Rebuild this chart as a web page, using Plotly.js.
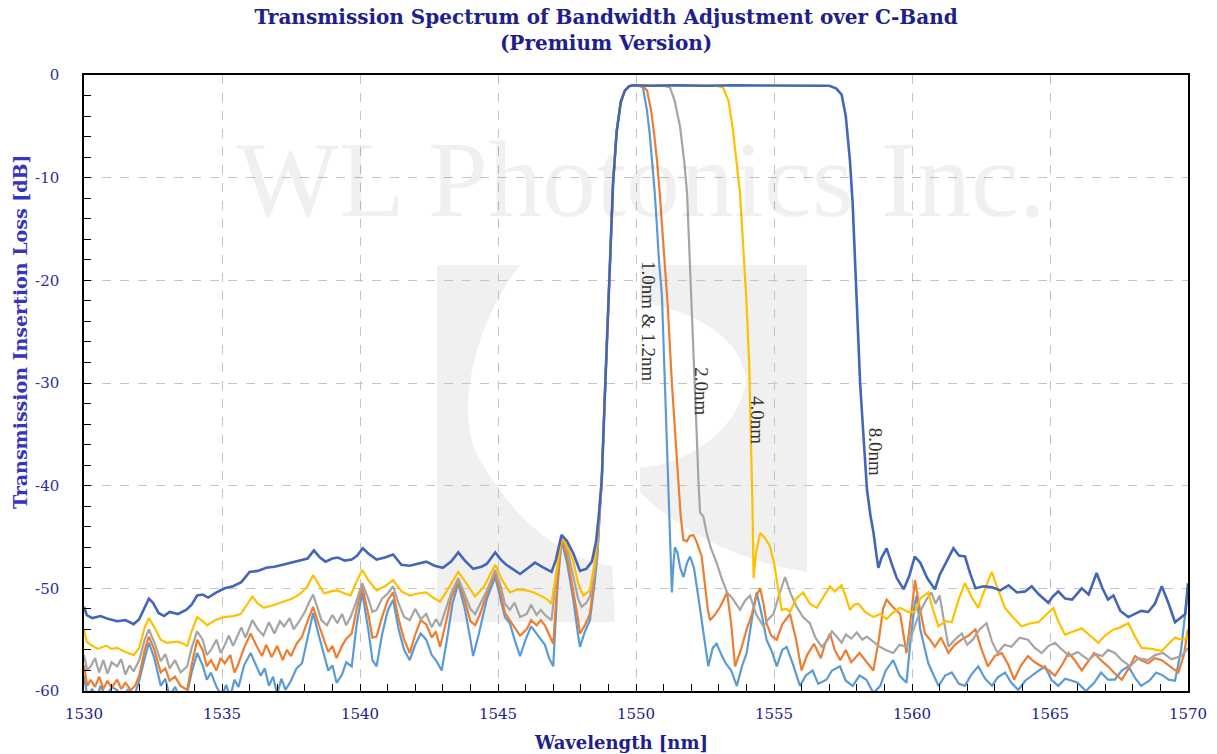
<!DOCTYPE html>
<html>
<head>
<meta charset="utf-8">
<script src="https://cdn.plot.ly/plotly-3.0.1.min.js"></script>
<style>html,body{margin:0;padding:0;background:#fff;}#chart{width:1217px;height:754px;}</style>
</head>
<body>
<div id="chart"></div>
<script>
// ---- 1.0nm (light blue) ----
const x10 = [1530.0,1530.12,1530.3,1530.45,1530.6,1530.8,1531.0,1531.2,1531.4,1531.6,1531.8,1532.0,1532.2,1532.35,1532.55,1532.78,1532.95,1533.1,1533.3,1533.5,1533.74,1533.9,1534.1,1534.3,1534.45,1534.6,1534.8,1535.0,1535.15,1535.3,1535.45,1535.6,1535.8,1536.04,1536.25,1536.4,1536.55,1536.7,1536.85,1537.0,1537.15,1537.3,1537.5,1537.7,1537.9,1538.1,1538.3,1538.5,1538.7,1538.85,1539.0,1539.15,1539.35,1539.5,1539.7,1539.88,1540.08,1540.3,1540.45,1540.6,1540.8,1541.0,1541.2,1541.4,1541.6,1541.8,1542.0,1542.2,1542.4,1542.6,1542.75,1542.96,1543.15,1543.35,1543.56,1543.8,1544.0,1544.1,1544.3,1544.6,1544.9,1545.1,1545.25,1545.43,1545.6,1545.8,1546.0,1546.2,1546.4,1546.55,1546.7,1546.85,1547.0,1547.15,1547.3,1547.5,1547.73,1547.9,1547.97,1548.15,1548.33,1548.5,1548.6,1548.68,1548.76,1548.86,1548.96,1549.06,1549.17,1549.3,1549.45,1549.6,1549.75,1549.9,1550.05,1550.25,1550.4,1550.5,1550.58,1550.68,1550.76,1550.83,1550.94,1551.05,1551.1,1551.17,1551.24,1551.3,1551.36,1551.41,1551.5,1551.6,1551.72,1551.85,1551.96,1552.1,1552.25,1552.45,1552.62,1552.78,1552.92,1553.1,1553.25,1553.45,1553.65,1553.85,1554.01,1554.2,1554.37,1554.55,1554.73,1554.9,1555.1,1555.3,1555.46,1555.7,1555.94,1556.15,1556.4,1556.6,1556.9,1557.1,1557.39,1557.6,1557.85,1558.1,1558.35,1558.6,1558.85,1559.05,1559.32,1559.55,1559.8,1559.95,1560.1,1560.17,1560.3,1560.59,1560.8,1560.96,1561.2,1561.44,1561.7,1561.92,1562.15,1562.4,1562.65,1562.9,1563.1,1563.37,1563.6,1563.85,1564.1,1564.34,1564.6,1564.82,1565.05,1565.3,1565.55,1565.8,1566.0,1566.3,1566.6,1566.85,1567.1,1567.35,1567.6,1567.84,1568.1,1568.3,1568.6,1568.85,1569.1,1569.3,1569.53,1569.75,1569.9,1570.0];
const y10 = [-58.5,-60.5,-59.8,-60.8,-59.5,-60.6,-59.6,-59.9,-60.8,-59.8,-60.7,-59.0,-56.8,-55.3,-56.8,-59.5,-58.8,-60.5,-59.6,-60.8,-60.2,-58.2,-56.3,-57.5,-58.9,-58.2,-59.6,-60.5,-59.4,-60.6,-58.9,-59.6,-57.5,-56.3,-57.6,-58.5,-57.8,-59.5,-58.6,-60.3,-58.8,-59.9,-59.0,-57.8,-57.3,-55.0,-52.4,-54.5,-56.6,-58.0,-57.5,-59.2,-58.4,-57.2,-57.6,-53.5,-50.4,-54.0,-57.0,-57.6,-54.5,-52.2,-51.1,-54.0,-56.0,-57.0,-55.5,-54.4,-55.0,-56.5,-57.0,-58.0,-55.0,-51.5,-49.5,-52.0,-55.0,-56.6,-54.5,-51.0,-48.9,-51.0,-52.8,-53.4,-55.0,-56.6,-55.0,-53.7,-54.4,-55.0,-55.5,-56.8,-57.6,-50.0,-45.3,-47.5,-51.1,-54.5,-55.7,-54.2,-53.1,-49.5,-46.9,-43.0,-39.4,-32.0,-25.0,-18.0,-10.5,-5.5,-2.6,-1.5,-1.1,-1.0,-1.0,-1.2,-3.5,-5.8,-8.3,-11.5,-14.8,-18.0,-21.5,-30.0,-35.0,-39.4,-45.0,-50.4,-47.5,-46.0,-46.5,-48.0,-48.9,-47.5,-46.9,-48.0,-50.7,-54.5,-57.6,-55.8,-55.4,-56.5,-57.3,-58.0,-59.5,-57.5,-56.3,-53.0,-50.4,-52.5,-55.0,-56.0,-57.6,-56.0,-55.7,-57.5,-59.5,-58.5,-58.0,-59.3,-58.9,-58.0,-57.6,-59.0,-59.5,-58.5,-58.9,-60.2,-59.5,-58.0,-57.0,-58.5,-59.2,-55.0,-51.5,-50.7,-54.0,-57.3,-58.5,-59.5,-58.5,-58.2,-59.3,-59.5,-58.4,-57.6,-58.8,-59.5,-58.7,-58.2,-59.2,-59.9,-59.0,-58.5,-58.0,-57.6,-58.9,-59.5,-58.8,-59.0,-59.2,-60.0,-59.2,-58.2,-58.9,-58.9,-58.0,-57.6,-58.8,-59.5,-59.0,-58.2,-58.5,-58.9,-59.0,-56.0,-52.5,-50.0];

// ---- 1.2nm (orange) ----
const x12 = [1530.0,1530.12,1530.24,1530.4,1530.55,1530.7,1530.85,1531.0,1531.2,1531.35,1531.5,1531.7,1531.85,1532.0,1532.2,1532.35,1532.55,1532.78,1532.95,1533.1,1533.3,1533.5,1533.74,1533.9,1534.1,1534.3,1534.45,1534.6,1534.8,1534.95,1535.1,1535.3,1535.45,1535.56,1535.8,1536.04,1536.25,1536.45,1536.6,1536.8,1537.0,1537.2,1537.35,1537.5,1537.7,1537.9,1538.1,1538.3,1538.5,1538.7,1538.85,1539.0,1539.15,1539.35,1539.5,1539.7,1539.88,1540.08,1540.3,1540.45,1540.6,1540.8,1541.0,1541.2,1541.4,1541.6,1541.8,1542.0,1542.2,1542.4,1542.6,1542.75,1542.9,1543.1,1543.3,1543.56,1543.8,1544.0,1544.17,1544.35,1544.6,1544.9,1545.1,1545.25,1545.43,1545.6,1545.8,1546.04,1546.2,1546.4,1546.55,1546.7,1546.85,1547.0,1547.15,1547.3,1547.5,1547.73,1547.9,1547.97,1548.15,1548.33,1548.5,1548.6,1548.68,1548.76,1548.86,1548.96,1549.06,1549.17,1549.3,1549.45,1549.6,1549.75,1549.9,1550.2,1550.4,1550.55,1550.66,1550.76,1550.86,1550.94,1551.05,1551.15,1551.3,1551.42,1551.53,1551.62,1551.72,1551.85,1551.95,1552.08,1552.2,1552.38,1552.5,1552.6,1552.68,1552.85,1553.05,1553.2,1553.3,1553.45,1553.59,1553.8,1554.01,1554.2,1554.35,1554.5,1554.62,1554.73,1554.9,1555.1,1555.3,1555.58,1555.8,1556.0,1556.2,1556.45,1556.7,1556.85,1557.03,1557.2,1557.4,1557.6,1557.8,1558.1,1558.3,1558.6,1558.8,1558.95,1559.08,1559.3,1559.57,1559.7,1559.8,1559.95,1560.11,1560.25,1560.47,1560.65,1560.83,1561.05,1561.32,1561.55,1561.8,1562.05,1562.3,1562.5,1562.75,1563.0,1563.25,1563.5,1563.7,1563.95,1564.2,1564.45,1564.7,1564.95,1565.18,1565.45,1565.67,1565.9,1566.15,1566.4,1566.6,1566.85,1567.1,1567.35,1567.6,1567.85,1568.08,1568.3,1568.56,1568.8,1569.05,1569.35,1569.65,1569.85,1570.0];
const y12 = [-57.5,-59.5,-58.9,-59.6,-58.6,-59.8,-59.0,-59.7,-58.9,-59.8,-59.2,-59.9,-59.5,-58.5,-56.0,-54.7,-56.0,-58.2,-57.8,-59.0,-58.6,-59.5,-59.9,-57.5,-55.0,-56.0,-57.6,-57.0,-58.0,-56.8,-57.3,-56.5,-58.2,-57.6,-55.8,-54.4,-55.6,-56.6,-55.5,-56.7,-55.6,-57.0,-56.0,-56.6,-55.4,-54.7,-53.2,-51.8,-53.5,-55.0,-56.2,-55.6,-56.8,-55.6,-54.9,-54.4,-52.0,-49.8,-52.5,-54.8,-54.7,-52.8,-51.2,-50.4,-53.0,-55.0,-56.3,-54.5,-53.1,-53.5,-54.8,-54.2,-55.7,-53.5,-51.0,-49.2,-51.2,-53.2,-53.6,-52.5,-50.5,-48.5,-50.5,-52.4,-53.1,-53.8,-54.6,-54.0,-53.1,-53.6,-53.1,-53.6,-54.5,-55.4,-49.5,-45.1,-46.8,-50.2,-53.0,-54.4,-53.6,-52.5,-49.0,-46.6,-42.8,-39.4,-32.0,-25.0,-18.0,-10.5,-5.5,-2.6,-1.5,-1.1,-1.0,-1.0,-1.5,-3.5,-5.8,-8.3,-11.5,-14.8,-18.5,-22.5,-30.0,-35.5,-39.4,-43.0,-45.3,-45.4,-44.9,-44.8,-45.5,-46.9,-49.5,-52.0,-53.1,-52.6,-51.8,-50.9,-50.4,-53.5,-57.6,-56.0,-54.0,-52.5,-50.8,-50.0,-51.5,-53.4,-54.6,-55.0,-53.5,-52.5,-55.0,-58.0,-56.5,-55.4,-56.8,-55.4,-54.4,-56.0,-57.0,-56.0,-57.2,-56.3,-57.0,-58.0,-55.0,-52.0,-51.1,-51.8,-52.5,-54.5,-56.3,-53.0,-49.2,-51.5,-54.4,-55.0,-55.7,-54.8,-56.3,-55.5,-55.0,-54.6,-54.0,-55.8,-57.6,-56.6,-56.3,-57.5,-58.9,-57.5,-56.6,-57.2,-57.6,-58.0,-58.5,-57.4,-56.3,-57.0,-58.0,-57.0,-56.3,-57.0,-57.6,-58.3,-58.9,-57.8,-56.6,-57.0,-57.3,-56.8,-57.0,-57.6,-58.2,-56.5,-54.0];

// ---- 2.0nm (gray) ----
const x20 = [1530.0,1530.12,1530.24,1530.4,1530.55,1530.7,1530.85,1531.0,1531.2,1531.35,1531.5,1531.65,1531.8,1532.0,1532.2,1532.35,1532.55,1532.78,1532.95,1533.1,1533.3,1533.5,1533.74,1533.9,1534.1,1534.3,1534.45,1534.6,1534.8,1534.95,1535.07,1535.25,1535.4,1535.55,1535.7,1535.85,1536.1,1536.3,1536.5,1536.7,1536.9,1537.1,1537.25,1537.45,1537.6,1537.8,1538.0,1538.15,1538.3,1538.45,1538.6,1538.8,1539.0,1539.18,1539.35,1539.5,1539.66,1539.85,1540.08,1540.3,1540.45,1540.6,1540.8,1541.0,1541.2,1541.4,1541.6,1541.8,1542.0,1542.2,1542.4,1542.6,1542.75,1542.9,1543.1,1543.3,1543.56,1543.8,1544.0,1544.17,1544.35,1544.6,1544.9,1545.1,1545.25,1545.43,1545.6,1545.8,1546.04,1546.2,1546.4,1546.55,1546.7,1546.94,1547.1,1547.3,1547.5,1547.73,1547.9,1548.03,1548.2,1548.33,1548.5,1548.6,1548.68,1548.76,1548.86,1548.96,1549.06,1549.17,1549.3,1549.45,1549.6,1549.75,1549.9,1550.5,1551.0,1551.23,1551.4,1551.6,1551.75,1551.85,1551.92,1552.0,1552.08,1552.14,1552.2,1552.26,1552.32,1552.44,1552.55,1552.7,1552.92,1553.1,1553.3,1553.5,1553.77,1553.95,1554.13,1554.35,1554.61,1554.8,1554.98,1555.2,1555.4,1555.6,1555.82,1556.05,1556.3,1556.5,1556.73,1556.95,1557.1,1557.27,1557.45,1557.6,1557.8,1558.0,1558.2,1558.36,1558.6,1558.84,1559.05,1559.32,1559.55,1559.8,1560.0,1560.17,1560.35,1560.5,1560.7,1560.85,1561.0,1561.15,1561.32,1561.55,1561.8,1562.0,1562.2,1562.45,1562.7,1562.9,1563.1,1563.35,1563.6,1563.9,1564.2,1564.45,1564.7,1564.95,1565.18,1565.45,1565.7,1566.0,1566.4,1566.65,1566.9,1567.1,1567.35,1567.6,1567.9,1568.2,1568.56,1568.8,1569.1,1569.4,1569.77,1570.0];
const y20 = [-56.5,-58.0,-57.6,-56.8,-58.2,-57.0,-58.3,-57.2,-57.6,-56.9,-58.4,-57.5,-58.1,-57.0,-55.0,-54.0,-55.3,-57.1,-56.4,-57.8,-57.0,-58.2,-57.6,-55.8,-54.2,-55.0,-56.5,-56.0,-55.0,-56.3,-55.7,-54.6,-55.6,-54.7,-53.8,-54.8,-53.1,-54.0,-54.6,-53.3,-54.4,-53.2,-53.7,-52.9,-54.0,-53.2,-52.3,-51.4,-50.6,-51.8,-53.1,-53.6,-52.6,-53.4,-52.5,-53.6,-52.8,-51.4,-49.5,-51.0,-52.3,-52.1,-51.0,-50.5,-49.8,-51.5,-52.8,-53.1,-52.0,-53.0,-52.5,-53.8,-53.0,-53.7,-52.0,-50.5,-49.0,-50.6,-52.0,-52.5,-51.5,-50.2,-48.2,-49.8,-51.5,-52.1,-51.4,-52.8,-52.5,-51.6,-52.6,-52.1,-52.6,-53.1,-49.0,-44.9,-46.0,-48.9,-51.0,-51.8,-51.4,-50.8,-48.5,-46.0,-42.5,-39.4,-32.0,-25.0,-18.0,-10.5,-5.5,-2.6,-1.5,-1.1,-1.0,-1.05,-1.05,-1.2,-2.5,-5.1,-8.5,-11.5,-16.0,-21.0,-26.0,-30.0,-35.0,-39.4,-42.6,-43.0,-44.5,-46.0,-47.5,-49.0,-50.4,-51.0,-52.1,-51.2,-50.7,-52.5,-53.7,-53.0,-52.5,-50.5,-48.9,-50.5,-51.8,-52.8,-53.4,-54.8,-55.7,-55.0,-54.2,-54.7,-55.3,-54.5,-54.9,-54.3,-55.0,-54.7,-55.2,-55.7,-56.0,-56.3,-55.5,-55.7,-54.5,-53.1,-52.0,-51.2,-50.4,-51.5,-50.7,-53.0,-55.7,-55.0,-54.4,-55.5,-55.0,-54.0,-53.4,-55.2,-56.3,-55.5,-55.7,-54.8,-55.0,-55.8,-56.3,-55.6,-55.3,-56.0,-56.6,-56.2,-57.0,-56.4,-56.6,-56.0,-56.3,-57.0,-57.6,-56.8,-57.0,-56.5,-56.3,-56.9,-56.6,-55.8];

// ---- 4.0nm (yellow) ----
const x40 = [1530.0,1530.1,1530.24,1530.5,1530.8,1531.0,1531.2,1531.5,1531.8,1532.0,1532.2,1532.35,1532.55,1532.78,1533.0,1533.38,1533.6,1533.74,1533.9,1534.1,1534.3,1534.47,1534.75,1535.07,1535.4,1535.68,1535.9,1536.1,1536.3,1536.52,1536.9,1537.25,1537.55,1537.85,1538.1,1538.3,1538.5,1538.7,1538.95,1539.18,1539.45,1539.66,1539.85,1540.08,1540.3,1540.6,1540.9,1541.2,1541.5,1541.8,1542.1,1542.4,1542.65,1542.9,1543.2,1543.56,1543.85,1544.17,1544.5,1544.9,1545.15,1545.43,1545.7,1546.04,1546.3,1546.52,1546.75,1546.94,1547.1,1547.3,1547.5,1547.73,1547.9,1548.09,1548.33,1548.5,1548.6,1548.68,1548.76,1548.86,1548.96,1549.06,1549.17,1549.3,1549.45,1549.6,1549.75,1549.9,1550.5,1551.5,1552.5,1552.9,1553.15,1553.35,1553.5,1553.65,1553.77,1553.88,1554.0,1554.1,1554.17,1554.22,1554.26,1554.35,1554.5,1554.7,1554.85,1555.0,1555.1,1555.28,1555.45,1555.58,1555.8,1556.06,1556.3,1556.55,1556.8,1557.03,1557.2,1557.45,1557.6,1557.75,1557.9,1558.06,1558.3,1558.6,1558.85,1559.08,1559.3,1559.57,1559.85,1560.11,1560.3,1560.59,1560.75,1560.96,1561.2,1561.44,1561.7,1561.92,1562.15,1562.4,1562.65,1562.89,1563.1,1563.37,1563.65,1563.97,1564.3,1564.58,1564.85,1565.12,1565.3,1565.54,1565.85,1566.15,1566.45,1566.75,1567.0,1567.3,1567.55,1567.84,1568.1,1568.32,1568.7,1569.05,1569.3,1569.53,1569.75,1569.9,1570.0];
const y40 = [-54.0,-55.2,-55.5,-55.9,-55.6,-55.9,-55.8,-56.2,-56.5,-55.8,-53.8,-52.9,-53.8,-55.0,-55.3,-55.2,-55.4,-55.6,-54.2,-52.8,-53.2,-53.6,-53.1,-52.8,-52.7,-52.5,-51.6,-50.8,-51.5,-51.9,-51.6,-51.3,-51.0,-50.5,-49.8,-48.7,-49.6,-50.5,-50.3,-50.2,-50.5,-50.7,-49.5,-48.2,-49.2,-50.2,-49.8,-49.2,-50.3,-50.7,-50.5,-50.4,-50.9,-51.3,-50.0,-48.4,-49.5,-50.8,-49.8,-47.7,-49.2,-50.4,-50.1,-50.2,-50.4,-50.7,-51.0,-51.5,-48.5,-45.1,-45.8,-47.4,-49.5,-50.7,-50.2,-47.5,-44.5,-42.0,-39.4,-32.0,-25.0,-18.0,-10.5,-5.5,-2.6,-1.5,-1.1,-1.0,-1.0,-1.05,-1.0,-1.05,-1.2,-2.5,-5.1,-8.5,-11.5,-16.5,-22.0,-28.0,-35.0,-42.0,-49.0,-46.5,-44.6,-45.2,-45.9,-47.5,-49.2,-52.1,-52.0,-52.3,-51.0,-50.4,-51.5,-51.9,-50.8,-49.8,-50.3,-49.7,-50.8,-52.1,-51.6,-51.5,-52.3,-52.8,-52.5,-53.0,-52.4,-51.9,-52.3,-52.3,-51.0,-50.4,-52.0,-53.7,-53.2,-53.3,-51.0,-49.5,-50.8,-51.9,-50.0,-48.4,-50.0,-51.9,-52.8,-53.7,-53.4,-53.3,-52.6,-51.9,-53.2,-54.5,-54.2,-53.9,-54.6,-55.3,-54.6,-54.0,-53.8,-53.4,-54.8,-55.8,-55.9,-56.1,-55.4,-54.8,-55.0,-55.0,-54.5];

// ---- 8.0nm (dark blue) ----
const x80 = [1530.0,1530.1,1530.3,1530.6,1530.9,1531.2,1531.5,1531.8,1532.0,1532.2,1532.35,1532.5,1532.7,1532.9,1533.1,1533.4,1533.7,1533.9,1534.1,1534.3,1534.5,1534.8,1535.1,1535.4,1535.7,1536.0,1536.3,1536.6,1536.9,1537.2,1537.5,1537.8,1538.1,1538.33,1538.55,1538.75,1539.0,1539.2,1539.45,1539.7,1539.9,1540.1,1540.3,1540.6,1540.9,1541.2,1541.5,1541.8,1542.1,1542.4,1542.7,1543.0,1543.3,1543.56,1543.8,1544.1,1544.4,1544.6,1544.9,1545.1,1545.3,1545.6,1545.8,1546.1,1546.34,1546.6,1546.94,1547.1,1547.3,1547.5,1547.73,1547.97,1548.2,1548.4,1548.55,1548.65,1548.76,1548.86,1548.96,1549.06,1549.17,1549.3,1549.45,1549.6,1549.75,1549.9,1550.5,1551.5,1552.5,1553.5,1554.5,1555.5,1556.5,1557.0,1557.25,1557.45,1557.6,1557.75,1557.85,1557.93,1558.02,1558.12,1558.25,1558.37,1558.5,1558.6,1558.7,1558.78,1558.9,1559.08,1559.25,1559.45,1559.7,1559.9,1560.1,1560.3,1560.55,1560.83,1561.0,1561.2,1561.5,1561.7,1561.92,1562.1,1562.3,1562.6,1562.9,1563.2,1563.5,1563.8,1564.1,1564.34,1564.6,1564.94,1565.1,1565.3,1565.55,1565.8,1566.15,1566.4,1566.69,1566.9,1567.1,1567.3,1567.55,1567.84,1568.1,1568.3,1568.56,1568.8,1569.05,1569.3,1569.53,1569.75,1569.9,1570.0];
const y80 = [-51.8,-52.6,-52.9,-52.7,-53.0,-53.2,-53.1,-53.5,-53.0,-51.8,-51.0,-51.4,-52.4,-52.7,-52.3,-52.5,-52.1,-51.6,-50.7,-50.6,-50.9,-50.4,-50.0,-49.8,-49.4,-48.4,-48.3,-48.0,-47.9,-47.7,-47.5,-47.3,-47.1,-46.3,-47.0,-47.4,-47.1,-47.0,-47.3,-47.2,-46.8,-46.1,-46.6,-47.2,-47.0,-46.7,-47.7,-47.8,-47.6,-47.4,-47.8,-48.0,-47.4,-46.5,-47.3,-48.1,-47.9,-47.6,-46.5,-47.2,-47.7,-48.2,-48.6,-48.0,-47.5,-47.9,-48.4,-47.2,-44.8,-45.4,-46.6,-48.3,-48.1,-47.4,-45.5,-43.0,-39.4,-32.0,-25.0,-18.0,-10.5,-5.5,-2.6,-1.5,-1.1,-1.0,-1.05,-1.0,-1.05,-1.0,-1.0,-1.05,-1.0,-1.05,-1.3,-1.9,-4.0,-8.3,-12.5,-18.0,-24.0,-30.0,-35.5,-40.4,-43.0,-44.5,-46.5,-48.0,-47.0,-46.1,-47.5,-49.0,-50.1,-48.8,-46.9,-47.5,-49.0,-50.1,-48.7,-47.6,-46.1,-46.8,-46.9,-48.5,-50.0,-49.8,-49.9,-50.2,-49.7,-50.4,-50.3,-49.8,-50.6,-51.4,-50.8,-50.3,-51.0,-51.1,-50.0,-50.6,-48.5,-50.0,-51.1,-50.7,-52.2,-52.8,-52.5,-52.2,-52.3,-51.5,-49.8,-51.5,-53.3,-52.8,-52.5,-49.5];

const seriesNames = ['1.0nm', '1.2nm', '2.0nm', '4.0nm', '8.0nm'];
const seriesX = [x10, x12, x20, x40, x80];
const seriesY = [y10, y12, y20, y40, y80];
const seriesColors = ['#5b9bd5', '#ed7d31', '#a5a5a5', '#ffc000', '#4466b8'];
const seriesWidths = [2.2, 2.2, 2.2, 2.2, 2.6];

const xTicks = [1530, 1535, 1540, 1545, 1550, 1555, 1560, 1565, 1570];
const xTickText = ['1530', '1535', '1540', '1545', '1550', '1555', '1560', '1565', '1570'];
const yTicks = [0, -10, -20, -30, -40, -50, -60];
const yTickText = ['0', '-10', '-20', '-30', '-40', '-50', '-60'];

// curve labels
const labelText = ['1.0nm &amp; 1.2nm', '2.0nm', '4.0nm', '8.0nm'];
const labelX = [1550.43, 1552.39, 1554.38, 1558.66];
const labelY = [-24.05, -30.8, -33.6, -36.7];

const traces = seriesNames.map((n, i) => ({
  type: 'scatter', mode: 'lines', name: n,
  x: seriesX[i], y: seriesY[i],
  line: {color: seriesColors[i], width: seriesWidths[i]},
  showlegend: false
}));

const serif = '"Liberation Serif", "Times New Roman", serif';
const wide = '"DejaVu Serif", serif';

const annotations = labelText.map((t, i) => ({
  x: labelX[i], y: labelY[i], xref: 'x', yref: 'y',
  text: t, showarrow: false, textangle: 90,
  xanchor: 'center', yanchor: 'middle',
  font: {family: serif, size: 19, color: '#333333'}
}));
annotations.push({
  xref: 'paper', yref: 'paper', x: 0.505, y: 0.83, xanchor: 'center', yanchor: 'middle',
  text: 'WL Photonics Inc.', showarrow: false,
  font: {family: serif, size: 108, color: 'rgba(0,0,0,0.06)'}
});
// axis titles (placed as in the reference)
annotations.push({
  xref: 'paper', yref: 'paper', x: (621 - 84) / 1104, y: (691 - 742) / 616,
  xanchor: 'center', yanchor: 'middle', showarrow: false,
  text: '<b>Wavelength [nm]</b>',
  font: {family: wide, size: 18, color: '#20208a'}
});
annotations.push({
  xref: 'paper', yref: 'paper', x: (20 - 84) / 1104, y: (691 - 332) / 616,
  xanchor: 'center', yanchor: 'middle', showarrow: false, textangle: -90,
  text: '<b>Transmission Insertion Loss [dB]</b>',
  font: {family: wide, size: 19, color: '#3535c0'}
});

// logo watermark (pixel coords converted to paper)
function px(p) { return ((p - 84) / 1104).toFixed(4); }
function py(p) { return ((691 - p) / 616).toFixed(4); }
function pth(cmds) {
  return cmds.map(c => c[0] + ' ' + c.slice(1).map((v, k) => k % 2 === 0 ? px(v) : py(v)).join(' ')).join(' ') + ' Z';
}
const logoLeft = pth([['M',437,265],['L',520,265],['C',470,330,455,420,480,460],['C',520,530,570,560,612,566],['L',615,622],['L',437,622]]);
const logoRight = pth([['M',640,265],['L',807,265],['L',807,572],['C',740,562,680,532,640,492],['L',640,468],['C',700,462,742,420,746,380],['C',742,340,700,312,640,302]]);

const layout = {
  width: 1217, height: 754,
  margin: {l: 84, r: 29, t: 75, b: 63},
  paper_bgcolor: '#ffffff', plot_bgcolor: '#ffffff',
  title: {
    text: '<b>Transmission Spectrum of Bandwidth Adjustment over C-Band<br>(Premium Version)</b>',
    x: 0.498, xref: 'container', xanchor: 'center',
    y: 0.968, yref: 'container', yanchor: 'middle',
    font: {family: wide, size: 20, color: '#20208a'}
  },
  xaxis: {
    range: [1530, 1570], tickmode: 'array', tickvals: xTicks, ticktext: xTickText,
    ticks: 'inside', ticklen: 7, tickcolor: '#000', tickwidth: 1,
    minor: {dtick: 1, ticks: 'inside', ticklen: 7, tickcolor: '#000', showgrid: false},
    showline: true, linecolor: '#000', linewidth: 1.5, mirror: true,
    showgrid: true, gridcolor: '#c4c4c4', griddash: 'dash', gridwidth: 1,
    zeroline: false, ticklabelstandoff: 8,
    tickfont: {family: wide, size: 15, color: '#20208a'}
  },
  yaxis: {
    range: [-60, 0], tickmode: 'array', tickvals: yTicks, ticktext: yTickText,
    ticks: 'inside', ticklen: 7, tickcolor: '#000', tickwidth: 1,
    minor: {dtick: 2, ticks: 'inside', ticklen: 7, tickcolor: '#000', showgrid: false},
    showline: true, linecolor: '#000', linewidth: 1.5, mirror: true,
    showgrid: true, gridcolor: '#c4c4c4', griddash: 'dash', gridwidth: 1,
    zeroline: false, ticklabelstandoff: 20,
    tickfont: {family: wide, size: 15, color: '#2d2d9c'}
  },
  shapes: [
    {type: 'path', xref: 'paper', yref: 'paper', layer: 'below', line: {width: 0}, fillcolor: '#f0f0f0', path: logoLeft},
    {type: 'path', xref: 'paper', yref: 'paper', layer: 'below', line: {width: 0}, fillcolor: '#f0f0f0', path: logoRight}
  ],
  annotations: annotations
};

Plotly.newPlot('chart', traces, layout, {displayModeBar: false, responsive: false});
</script>
</body>
</html>
